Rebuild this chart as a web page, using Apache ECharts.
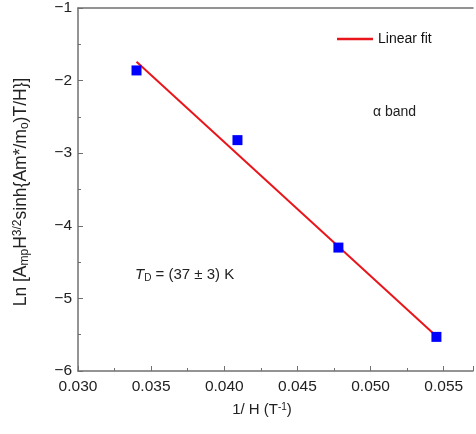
<!DOCTYPE html>
<html><head><meta charset="utf-8">
<script src="https://cdn.jsdelivr.net/npm/echarts@6/dist/echarts.min.js"></script>
<style>html,body{margin:0;padding:0;background:#fff}#c{width:476px;height:434px}</style>
</head><body><div id="c"></div>
<script>
var pointsX = [0.0340, 0.0409, 0.0478, 0.0545];
var pointsY = [-1.86, -2.82, -4.30, -5.53];
var fitX = [0.0340, 0.0545];
var fitY = [-1.74, -5.52];
var xTicks = [0.030, 0.035, 0.040, 0.045, 0.050, 0.055];
var yTicks = [-1, -2, -3, -4, -5, -6];

var FONT = 'Liberation Sans, Arial, sans-serif';
var chart = echarts.init(document.getElementById('c'));
var axisCol = '#707070';
function isTick(v){ return xTicks.some(function(t){return Math.abs(t-v)<1e-9;}); }
chart.setOption({
  animation:false,
  grid:{left:78,top:5,right:2,bottom:63},
  legend:{data:[{name:'Linear fit',icon:'rect'}],left:332,top:27,itemWidth:36,itemHeight:2.5,itemGap:10,
    textStyle:{fontSize:14,color:'#111',fontFamily:FONT}},
  xAxis:[{type:'value',min:0.030,max:0.057,interval:0.005,
    axisLine:{show:true,onZero:false,lineStyle:{color:axisCol,width:1.5}},
    axisTick:{show:true,inside:true,length:5,lineStyle:{color:axisCol}},
    minorTick:{show:true,splitNumber:2,length:3,lineStyle:{color:axisCol}},
    splitLine:{show:false},
    axisLabel:{fontSize:15.5,color:'#222',fontFamily:FONT,margin:8,
      formatter:function(v){return isTick(v)?v.toFixed(3):'';}}},
   {type:'value',position:'top',min:0.030,max:0.057,interval:0.005,
    axisLine:{show:true,onZero:false,lineStyle:{color:axisCol,width:1.5}},
    axisTick:{show:false},axisLabel:{show:false},splitLine:{show:false}}],
  yAxis:{type:'value',min:-6,max:-1,interval:1,
    axisLine:{show:true,onZero:false,lineStyle:{color:axisCol,width:1.5}},
    axisTick:{show:true,inside:true,length:5,lineStyle:{color:axisCol}},
    minorTick:{show:true,splitNumber:2,length:3,lineStyle:{color:axisCol}},
    splitLine:{show:false},
    axisLabel:{fontSize:15.5,color:'#222',fontFamily:FONT,margin:6,
      formatter:function(v){return String(v).replace('-','\u2212');}}},
  series:[
    {name:'Linear fit',type:'line',symbol:'none',data:fitX.map(function(x,i){return [x,fitY[i]];}),
     lineStyle:{color:'#e8161b',width:2},itemStyle:{color:'#e8161b'},z:2},
    {name:'data',type:'scatter',symbol:'rect',symbolSize:10,
     data:pointsX.map(function(x,i){return [x,pointsY[i]];}),
     itemStyle:{color:'#0000ff',opacity:1},z:3}
  ],
  graphic:[
    {type:'text',x:21,y:192,rotation:Math.PI/2,style:{
      text:'Ln [A{sub|mp}H{sup|3/2}sinh{Am*/m{sub|o})T/H}]',
      font:'17.5px '+FONT,fill:'#222',align:'center',verticalAlign:'middle',
      rich:{sub:{fontSize:12,fontFamily:FONT,fill:'#222',verticalAlign:'bottom',padding:[7,0,0,0]},
            sup:{fontSize:12,fontFamily:FONT,fill:'#222',verticalAlign:'top',padding:[0,0,7,0]}}}},
    {type:'text',x:262,y:410,style:{
      text:'1/ H (T{sup|-1})',font:'15px '+FONT,fill:'#222',align:'center',verticalAlign:'middle',
      rich:{sup:{fontSize:10,fontFamily:FONT,fill:'#222',verticalAlign:'top',padding:[0,0,6,0]}}}},
    {type:'text',x:373,y:112,style:{text:'\u03b1 band',font:'14px '+FONT,fill:'#222',verticalAlign:'middle'}},
    {type:'text',x:135,y:275,style:{
      text:'{i|T}{sub|D} = (37 \u00b1 3) K',font:'15px '+FONT,fill:'#222',verticalAlign:'middle',
      rich:{i:{fontStyle:'italic',fontSize:15,fontFamily:FONT,fill:'#222'},
            sub:{fontSize:10,fontFamily:FONT,fill:'#222',verticalAlign:'bottom',padding:[6,0,0,0]}}}}
  ]
});
</script></body></html>
